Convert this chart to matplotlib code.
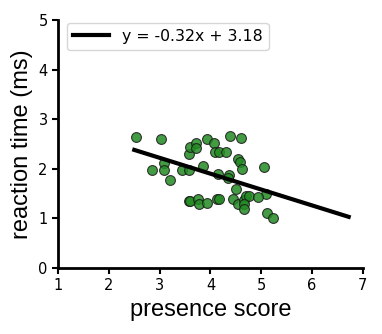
import matplotlib
matplotlib.use("Agg")
import matplotlib.pyplot as plt
import numpy as np

# presence score vs reaction time
presence = [2.53, 3.03, 2.85, 3.08, 3.09, 3.21, 3.44, 3.57, 3.57, 3.60,
            3.72, 3.72, 3.85, 3.93, 4.06, 4.08, 4.16, 4.30, 4.39, 4.60,
            4.54, 4.59, 4.63, 5.06, 4.15, 4.36, 4.34, 4.51, 5.09, 3.57,
            3.60, 3.75, 3.78, 3.94, 4.13, 4.16, 4.45, 4.54, 4.66, 4.69,
            4.76, 4.66, 4.66, 4.93, 5.11, 5.24]
reaction = [2.65, 2.61, 1.97, 2.11, 1.97, 1.77, 1.97, 1.97, 2.30, 2.43,
            2.51, 2.42, 2.06, 2.61, 2.51, 2.34, 2.34, 2.34, 2.66, 2.63,
            2.20, 2.13, 1.99, 2.04, 1.89, 1.88, 1.82, 1.59, 1.50, 1.35,
            1.35, 1.38, 1.28, 1.31, 1.39, 1.39, 1.39, 1.29, 1.37, 1.46,
            1.46, 1.29, 1.19, 1.42, 1.11, 1.00]

slope, intercept = -0.32, 3.18
fit_x = np.array([2.5, 6.72])

fig = plt.figure(figsize=(3.82, 3.34), dpi=100)
ax = fig.add_axes([0.152, 0.198, 0.798, 0.742])

ax.scatter(presence, reaction, s=50, color="#228b22", alpha=0.85,
           edgecolor="#1a1a1a", linewidth=0.8, zorder=2)
ax.plot(fit_x, slope * fit_x + intercept, color="black", linewidth=3,
        label=f"y = {slope:.2f}x + {intercept:.2f}", zorder=3)

ax.set_xlim(1, 7)
ax.set_ylim(0, 5)
ax.set_xticks(range(1, 8))
ax.set_yticks(range(0, 6))
ax.tick_params(labelsize=10.5, width=1.5, length=4)
lab_font = dict(family=["Liberation Sans", "DejaVu Sans"], fontsize=17)
ax.set_xlabel("presence score", **lab_font)
ax.set_ylabel("reaction time (ms)", **lab_font)
for side in ["top", "right"]:
    ax.spines[side].set_visible(False)
for side in ["left", "bottom"]:
    ax.spines[side].set_linewidth(2)

ax.legend(loc="upper left", bbox_to_anchor=(0.028, 0.99), borderaxespad=0,
          fontsize=11.3, handlelength=2.3)

fig.savefig("out.png", dpi=100)
